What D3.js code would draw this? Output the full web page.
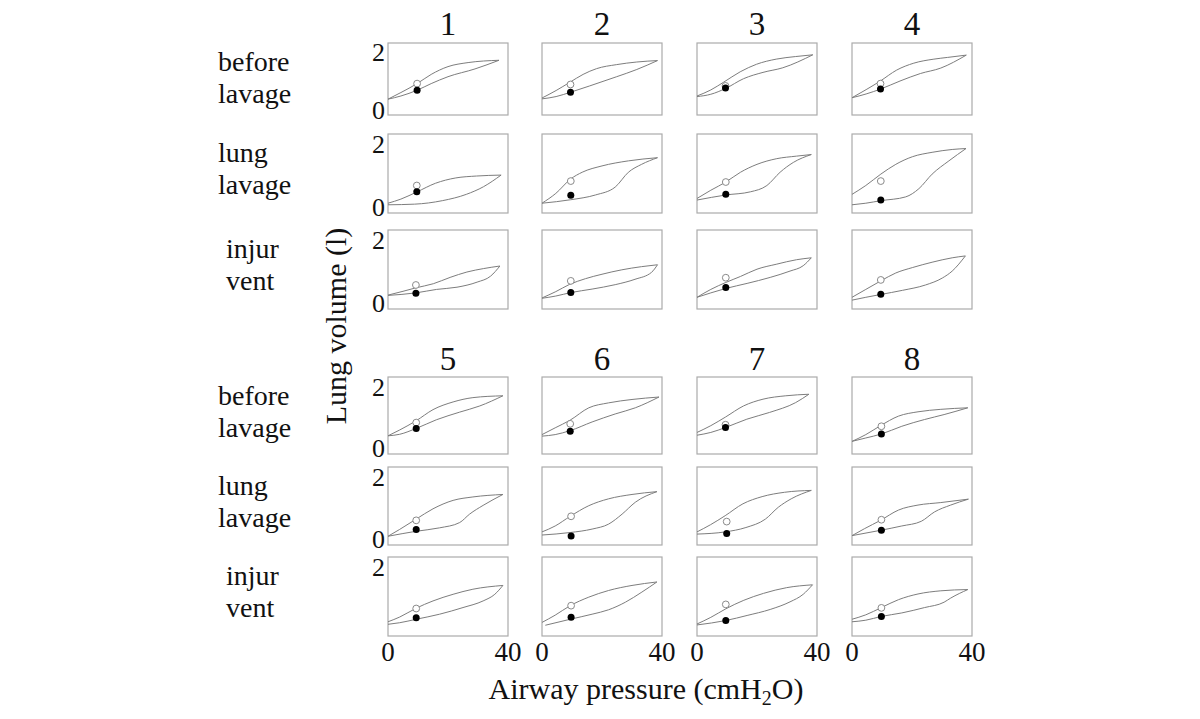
<!DOCTYPE html>
<html>
<head>
<meta charset="utf-8">
<script src="https://cdn.jsdelivr.net/npm/d3@7"></script>
<style>
  body { margin: 0; background: #fff; }
  text { font-family: "Liberation Serif", "DejaVu Serif", serif; fill: #111; }
</style>
</head>
<body>
<svg id="chart" width="1200" height="719"></svg>
<script>
// subjects (columns) and conditions (rows)
var subjects = ["1", "2", "3", "4", "5", "6", "7", "8"];
var conditionLabels = [["before", "lavage"], ["lung", "lavage"], ["injur", "vent"]];
var pressureTicks = [0, 40];
var volumeTicks = [0, 2];

// deflation (upper) limb of each P-V loop, [pressure cmH2O, volume l], by subject then condition
var deflationLimbs = [
  [[[0,0.35],[4.3,0.58],[9.7,0.89],[14.4,1.21],[20,1.48],[26.7,1.62],[37,1.70]],
   [[0,0.11],[4.3,0.24],[9.7,0.47],[15.8,0.74],[22.6,0.91],[29.5,0.97],[37.7,1.0]],
   [[0,0.24],[5,0.36],[9.3,0.47],[15.1,0.6],[20.7,0.8],[26.3,0.97],[31.9,1.08],[37.3,1.16]]],
  [[[0,0.39],[4.7,0.65],[9.2,0.93],[13.7,1.21],[18.2,1.41],[24.9,1.55],[31.6,1.64],[38.5,1.69]],
   [[0,0.11],[4.6,0.42],[9.6,0.88],[13.4,1.09],[20,1.29],[28.8,1.45],[38.5,1.55]],
   [[0,0.15],[4.6,0.35],[9,0.57],[14.5,0.76],[20,0.9],[26.6,1.04],[33.2,1.14],[38.5,1.2]]],
  [[[0,0.46],[4.6,0.67],[8.9,0.94],[14.4,1.3],[19.8,1.56],[26.4,1.74],[32.9,1.83],[38.6,1.89]],
   [[0,0.26],[4.6,0.52],[9.6,0.78],[14.5,1.09],[20,1.34],[26.6,1.52],[33.2,1.6],[38.1,1.65]],
   [[0,0.17],[4.6,0.42],[9.6,0.64],[14.5,0.83],[20,1.06],[26.6,1.22],[33.2,1.36],[38.1,1.42]]],
  [[[0,0.4],[4.7,0.68],[9.3,0.97],[14.9,1.36],[20.6,1.6],[27.3,1.74],[31.9,1.8],[38.1,1.88]],
   [[0,0.39],[4.6,0.67],[9.6,1.03],[14.6,1.34],[20.1,1.58],[26.7,1.72],[33.4,1.81],[38,1.84]],
   [[0,0.17],[4.6,0.42],[9.6,0.69],[14.6,0.94],[20.1,1.11],[26.7,1.28],[33.4,1.42],[37.8,1.48]]],
  [[[0,0.39],[3.9,0.58],[9.4,0.88],[15,1.24],[21.7,1.49],[28.3,1.63],[38.3,1.69]],
   [[0,0.08],[3.9,0.3],[9.4,0.63],[15,0.96],[21.7,1.23],[28.3,1.34],[38.3,1.42]],
   [[0,0.25],[3.9,0.4],[9.4,0.68],[15,0.91],[21.7,1.12],[28.3,1.28],[38.3,1.4]]],
  [[[0,0.43],[4.4,0.65],[9.4,0.9],[15.6,1.3],[22.2,1.46],[30,1.57],[39,1.65]],
   [[0,0.22],[4.4,0.41],[9.4,0.72],[15.6,1.06],[22.2,1.28],[30,1.42],[38.3,1.51]],
   [[0,0.23],[4.4,0.46],[9.4,0.76],[15.6,1.03],[22.2,1.24],[30,1.4],[38.3,1.51]]],
  [[[0,0.5],[4.6,0.72],[9.5,1.0],[15.5,1.36],[22,1.58],[29.6,1.69],[37.3,1.74]],
   [[0,0.22],[4.5,0.45],[9.4,0.74],[15.3,1.12],[21.7,1.35],[29.2,1.49],[38.1,1.55]],
   [[0,0.18],[4.6,0.39],[9.6,0.66],[15.6,0.93],[22.2,1.15],[29.9,1.33],[38.5,1.42]]],
  [[[0,0.21],[4.6,0.43],[9.5,0.72],[15.5,1.03],[22,1.17],[29.6,1.25],[38.6,1.3]],
   [[0,0.1],[4.1,0.32],[9.5,0.59],[15.5,0.92],[22,1.08],[29.6,1.16],[38.8,1.27]],
   [[0,0.33],[4.6,0.47],[9.8,0.7],[15.5,0.95],[22,1.13],[29.6,1.23],[38.6,1.27]]]
];

// inflation (lower) limb
var inflationLimbs = [
  [[[0,0.35],[4.3,0.46],[9.7,0.66],[14.4,0.89],[20,1.13],[29,1.40],[37,1.70]],
   [[0,0.06],[8.9,0.08],[18.1,0.19],[26.1,0.39],[31.8,0.63],[37.7,1.0]],
   [[0,0.23],[9.3,0.31],[16.2,0.42],[23,0.49],[29.7,0.65],[34.2,0.84],[37.3,1.16]]],
  [[[0,0.36],[4.7,0.44],[9.5,0.59],[15.9,0.81],[24.9,1.13],[31.6,1.38],[38.5,1.69]],
   [[0,0.11],[9.6,0.22],[17.8,0.37],[24.4,0.62],[28.8,1.09],[33.2,1.34],[38.5,1.55]],
   [[0,0.14],[4.6,0.21],[9.6,0.32],[16.7,0.43],[24.4,0.57],[31,0.74],[36.5,0.96],[38.5,1.2]]],
  [[[0,0.44],[4.6,0.52],[9.5,0.72],[15.5,1.06],[22,1.28],[28.6,1.44],[38.6,1.89]],
   [[0,0.21],[9.6,0.37],[17.8,0.47],[23.3,0.67],[27.7,1.09],[32.1,1.4],[38.1,1.65]],
   [[0,0.17],[4.6,0.31],[9.6,0.45],[16.7,0.61],[24.4,0.8],[31,1.0],[35.4,1.17],[38.1,1.42]]],
  [[[0,0.4],[4.7,0.53],[9.5,0.7],[16,0.98],[22.8,1.24],[29.6,1.43],[38.1,1.88]],
   [[0,0.06],[4.6,0.11],[9.6,0.19],[17.9,0.31],[22.3,0.57],[26.7,1.03],[32.3,1.45],[38,1.84]],
   [[0,0.08],[4.6,0.17],[9.6,0.26],[16.8,0.39],[24.5,0.56],[30.1,0.78],[33.4,1.0],[37.8,1.48]]],
  [[[0,0.39],[3.9,0.44],[9.4,0.63],[16.1,0.91],[23.9,1.16],[30.6,1.36],[38.3,1.69]],
   [[0,0.08],[9.4,0.24],[17.2,0.35],[23.9,0.52],[27.2,0.79],[31.7,1.07],[38.3,1.42]],
   [[0,0.17],[3.9,0.22],[9.4,0.33],[17.2,0.49],[25,0.7],[31.7,0.91],[35.6,1.12],[38.3,1.4]]],
  [[[0,0.38],[4.4,0.43],[9.4,0.56],[16.7,0.84],[24.4,1.1],[31.1,1.3],[39,1.65]],
   [[0,0.12],[9.4,0.2],[16.7,0.31],[22.2,0.47],[26.7,0.79],[31.1,1.17],[38.3,1.51]],
   [[1.1,0.14],[9.4,0.33],[16.7,0.49],[22.2,0.63],[27.8,0.87],[33.3,1.19],[38.3,1.51]]],
  [[[0,0.41],[4.6,0.5],[9.5,0.66],[16.6,0.93],[24.2,1.15],[32.9,1.47],[37.3,1.74]],
   [[0,0.15],[9.4,0.22],[16.3,0.36],[22.8,0.63],[27.1,1.01],[31.4,1.28],[38.1,1.55]],
   [[0,0.15],[9.6,0.29],[16.7,0.45],[24.4,0.64],[31,0.88],[35.4,1.12],[38.5,1.42]]],
  [[[0,0.21],[4.6,0.32],[9.8,0.45],[16.6,0.7],[24.2,0.92],[30.7,1.08],[38.6,1.3]],
   [[0,0.1],[9.5,0.27],[16.6,0.41],[23.1,0.56],[27.5,0.86],[32.9,1.08],[38.8,1.27]],
   [[0,0.25],[4.6,0.3],[9.8,0.42],[16.6,0.53],[24.2,0.7],[30.7,0.87],[32.9,1.0],[38.6,1.27]]]
];

// open circles and filled circles, [pressure, volume]
var openPoints = [
  [[9.7,0.89],[9.6,0.67],[9.3,0.56]],
  [[9.5,0.86],[9.6,0.81],[9.6,0.69]],
  [[9.5,0.81],[9.6,0.78],[9.6,0.79]],
  [[9.5,0.89],[9.6,0.81],[9.6,0.72]],
  [[9.4,0.82],[9.4,0.59],[9.4,0.67]],
  [[9.4,0.78],[9.7,0.72],[9.7,0.76]],
  [[9.5,0.75],[9.9,0.55],[9.6,0.8]],
  [[9.8,0.7],[9.8,0.61],[9.8,0.69]]
];
var filledPoints = [
  [[9.7,0.66],[9.6,0.47],[9.3,0.30]],
  [[9.5,0.59],[9.6,0.36],[9.6,0.32]],
  [[9.5,0.74],[9.6,0.39],[9.6,0.48]],
  [[9.5,0.70],[9.6,0.21],[9.6,0.27]],
  [[9.4,0.63],[9.4,0.30],[9.4,0.38]],
  [[9.4,0.54],[9.7,0.09],[9.7,0.39]],
  [[9.5,0.66],[9.9,0.17],[9.6,0.29]],
  [[9.8,0.45],[9.8,0.27],[9.8,0.42]]
];

var svg = d3.select("#chart");

// layout of the panel grid
var colLeft = [388, 542, 697, 852];
var panelWidth = 120;
var rowBands = [
  [[43, 115], [134, 213], [230, 309]],
  [[377, 454], [467, 545], [557, 636]]
];
var titleY = [35, 370];

var lineColor = "#7d7d7d";
var boxColor = "#ababab";

subjects.forEach(function (subject, s) {
  var half = s < 4 ? 0 : 1;
  var col = s % 4;
  var left = colLeft[col];

  var xScale = d3.scaleLinear().domain([0, 40]).range([left, left + panelWidth]);

  svg.append("text")
     .attr("x", left + panelWidth / 2)
     .attr("y", titleY[half])
     .attr("text-anchor", "middle")
     .style("font-size", "33px")
     .text(subject);

  conditionLabels.forEach(function (cond, c) {
    var band = rowBands[half][c];
    var yScale = d3.scaleLinear().domain([-0.2, 2.3]).range([band[1], band[0]]);
    var g = svg.append("g");

    g.append("rect")
     .attr("x", xScale(0))
     .attr("y", band[0])
     .attr("width", panelWidth)
     .attr("height", band[1] - band[0])
     .attr("fill", "none")
     .attr("stroke", boxColor)
     .attr("stroke-width", 1.2);

    var line = d3.line()
                 .x(d => xScale(d[0]))
                 .y(d => yScale(d[1]))
                 .curve(d3.curveMonotoneX);

    g.append("path")
     .attr("d", line(inflationLimbs[s][c]))
     .attr("fill", "none")
     .attr("stroke", lineColor)
     .attr("stroke-width", 1);

    g.append("path")
     .attr("d", line(deflationLimbs[s][c]))
     .attr("fill", "none")
     .attr("stroke", lineColor)
     .attr("stroke-width", 1);

    var op = openPoints[s][c];
    g.append("circle")
     .attr("cx", xScale(op[0]))
     .attr("cy", yScale(op[1]))
     .attr("r", 3.4)
     .attr("fill", "#fff")
     .attr("stroke", "#8a8a8a")
     .attr("stroke-width", 1);

    var fp = filledPoints[s][c];
    g.append("circle")
     .attr("cx", xScale(fp[0]))
     .attr("cy", yScale(fp[1]))
     .attr("r", 3.5)
     .attr("fill", "#000");

    // volume ticks only on the first column of each half
    if (col === 0) {
      var ticks = (half === 1 && c === 2) ? [volumeTicks[1]] : volumeTicks;
      ticks.forEach(function (t) {
        g.append("text")
         .attr("x", left - 3)
         .attr("y", yScale(t))
         .attr("dy", "0.36em")
         .attr("text-anchor", "end")
         .style("font-size", "26px")
         .text(t);
      });

      // row labels
      g.append("text")
       .attr("x", c === 2 ? 226 : 218)
       .attr("y", band[0] + 28)
       .style("font-size", "28px")
       .text(cond[0]);
      g.append("text")
       .attr("x", c === 2 ? 226 : 218)
       .attr("y", band[0] + 60)
       .style("font-size", "28px")
       .text(cond[1]);
    }

    // pressure ticks below the bottom row
    if (half === 1 && c === 2) {
      pressureTicks.forEach(function (t) {
        g.append("text")
         .attr("x", xScale(t))
         .attr("y", band[1] + 25)
         .attr("text-anchor", "middle")
         .style("font-size", "27px")
         .text(t);
      });
    }
  });
});

// axis titles
var xTitle = svg.append("text")
                .attr("x", 646)
                .attr("y", 699)
                .attr("text-anchor", "middle")
                .style("font-size", "30px");
xTitle.append("tspan").text("Airway pressure (cmH");
xTitle.append("tspan").attr("dy", 6).style("font-size", "20px").text("2");
xTitle.append("tspan").attr("dy", -6).text("O)");

svg.append("text")
   .attr("transform", "translate(346,326) rotate(-90)")
   .attr("text-anchor", "middle")
   .style("font-size", "30px")
   .text("Lung volume (l)");
</script>
</body>
</html>
